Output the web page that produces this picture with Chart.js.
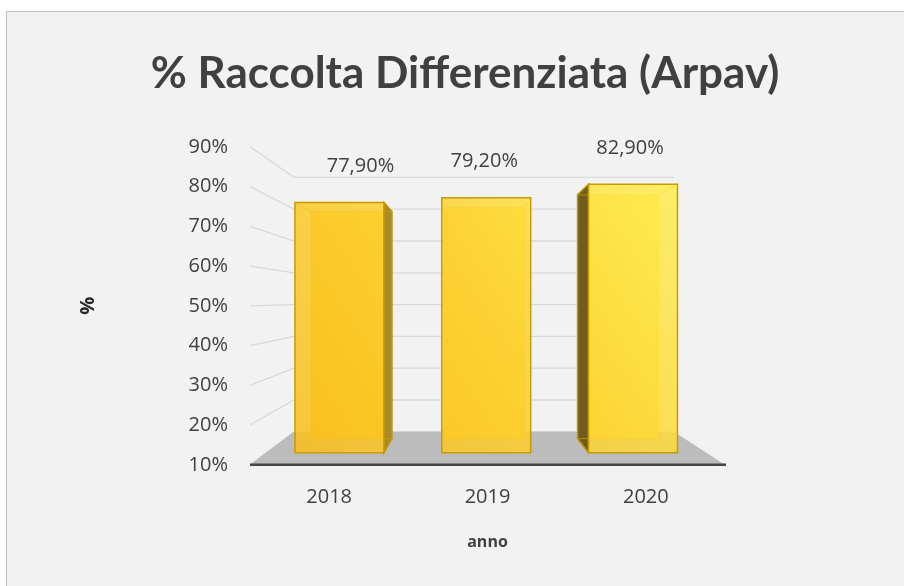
<!DOCTYPE html>
<html>
<head>
<meta charset="utf-8">
<script src="https://cdn.jsdelivr.net/npm/chart.js@4/dist/chart.umd.min.js"></script>
<style>
  html, body { margin: 0; padding: 0; background: #fff; overflow: hidden; }
  #panel {
    position: absolute; left: 6px; top: 11px; width: 920px; height: 600px;
    background: #f2f2f2; border: 1px solid #bfbfbf;
  }
  #chart { position: absolute; left: 0; top: 0; }
</style>
</head>
<body>
<div id="panel"></div>
<canvas id="chart" width="904" height="586"></canvas>
<script>
/* ── data ── */
const years   = ['2018', '2019', '2020'];
const percent = [77.9, 79.2, 82.9];
const yTicks  = [10, 20, 30, 40, 50, 60, 70, 80, 90];

/* ── 3D look: vanishing point (fraction of chart area) and depths ── */
const VP_FX = 0.463, VP_FY = 0.481;
const K_WALL = 0.80;          // back wall
const K_FRONT = 0.927;        // bar front face
const K_BACK = 0.841;         // bar back face
const LABEL_DX = [21, -2, -3];

const fmt = v => v.toFixed(2).replace('.', ',') + '%';

function proj(area, x, y, k) {
  const vx = area.left + VP_FX * (area.right - area.left);
  const vy = area.top + VP_FY * (area.bottom - area.top);
  return [vx + k * (x - vx), vy + k * (y - vy)];
}

function poly(ctx, pts) {
  ctx.beginPath();
  ctx.moveTo(pts[0][0], pts[0][1]);
  for (let i = 1; i < pts.length; i++) ctx.lineTo(pts[i][0], pts[i][1]);
  ctx.closePath();
}

/* ── walls, floor and gridlines behind the bars ── */
const wallsPlugin = {
  id: 'walls',
  beforeDatasetsDraw(chart) {
    const { ctx, chartArea: a, scales: { y } } = chart;
    ctx.save();
    ctx.strokeStyle = '#d9d9d9';
    ctx.lineWidth = 1.3;
    yTicks.forEach(t => {
      const py = y.getPixelForValue(t);
      const b1 = proj(a, a.left, py, K_WALL);
      const b2 = proj(a, a.right, py, K_WALL);
      ctx.beginPath();
      ctx.moveTo(a.left, py);
      ctx.lineTo(b1[0], b1[1]);
      ctx.lineTo(b2[0], b2[1]);
      ctx.stroke();
    });
    // floor
    const fy = y.getPixelForValue(yTicks[0]);
    poly(ctx, [[a.left, fy], [a.right, fy], proj(a, a.right, fy, K_WALL), proj(a, a.left, fy, K_WALL)]);
    ctx.fillStyle = '#bcbcbc';
    ctx.fill();
    ctx.beginPath();
    ctx.moveTo(a.left, fy);
    ctx.lineTo(a.right + 1, fy);
    ctx.strokeStyle = '#454545';
    ctx.lineWidth = 2.5;
    ctx.stroke();
    ctx.restore();
  }
};

/* ── the 3D bars and value labels ── */
const barsPlugin = {
  id: 'bars3d',
  afterDatasetsDraw(chart) {
    const { ctx, chartArea: a } = chart;
    const meta = chart.getDatasetMeta(0);
    const grad = ctx.createLinearGradient(a.left, a.bottom, a.right, a.top);
    grad.addColorStop(0, '#f9bb18');
    grad.addColorStop(0.5, '#fcd232');
    grad.addColorStop(1, '#fff45a');
    const vx = a.left + VP_FX * (a.right - a.left);

    ctx.save();
    meta.data.forEach((bar, i) => {
      const { x, y, base, width } = bar.getProps(['x', 'y', 'base', 'width'], true);
      const x0 = x - width / 2, x1 = x + width / 2;
      const f = [proj(a, x0, y, K_FRONT), proj(a, x1, y, K_FRONT), proj(a, x1, base, K_FRONT), proj(a, x0, base, K_FRONT)];
      const b = [proj(a, x0, y, K_BACK), proj(a, x1, y, K_BACK), proj(a, x1, base, K_BACK), proj(a, x0, base, K_BACK)];

      // back face (seen through)
      poly(ctx, b);
      ctx.fillStyle = grad;
      ctx.fill();

      // side face
      ctx.lineWidth = 1.4;
      ctx.strokeStyle = '#b08a00';
      if (x < vx && b[1][0] > f[1][0]) {
        poly(ctx, [f[1], b[1], b[2], f[2]]);
        ctx.fillStyle = '#a68a2f';
        ctx.fill();
        ctx.stroke();
      } else if (x > vx && b[0][0] < f[0][0]) {
        poly(ctx, [f[0], b[0], b[3], f[3]]);
        ctx.fillStyle = '#6f5c1f';
        ctx.fill();
        ctx.stroke();
      }

      // hidden edges shining through
      ctx.strokeStyle = 'rgba(214,160,0,0.55)';
      ctx.lineWidth = 1.2;
      poly(ctx, b);
      ctx.stroke();
      for (let c = 0; c < 4; c++) {
        ctx.beginPath();
        ctx.moveTo(f[c][0], f[c][1]);
        ctx.lineTo(b[c][0], b[c][1]);
        ctx.stroke();
      }

      // front face
      poly(ctx, f);
      ctx.globalAlpha = 0.86;
      ctx.fillStyle = grad;
      ctx.fill();
      ctx.globalAlpha = 1;
      ctx.strokeStyle = '#c89c00';
      ctx.lineWidth = 1.5;
      ctx.stroke();

      // value label
      ctx.fillStyle = '#404040';
      ctx.font = '20px "Open Sans"';
      ctx.textAlign = 'center';
      ctx.textBaseline = 'middle';
      ctx.fillText(fmt(percent[i]), f[0][0] + (f[1][0] - f[0][0]) / 2 + LABEL_DX[i], f[0][1] - 36);
    });
    ctx.restore();
  }
};

new Chart(document.getElementById('chart'), {
  type: 'bar',
  data: {
    labels: years,
    datasets: [{
      data: percent,
      base: yTicks[0],
      backgroundColor: 'rgba(0,0,0,0)',
      borderWidth: 0,
      barPercentage: 0.606,
      categoryPercentage: 1,
    }],
  },
  options: {
    responsive: false,
    animation: false,
    layout: { padding: { left: 72, right: 46, top: 0, bottom: 30 } },
    plugins: {
      legend: { display: false },
      tooltip: { enabled: false },
      title: {
        display: true,
        text: '% Raccolta Differenziata (Arpav)',
        color: '#404040',
        font: { family: 'Lato', size: 44, weight: 'bold', lineHeight: 1.2 },
        padding: { top: 47, bottom: 47 },
      },
    },
    scales: {
      x: {
        grid: { display: false, drawTicks: false },
        border: { display: false },
        ticks: { color: '#404040', padding: 20, font: { family: 'Open Sans', size: 20, lineHeight: 1.2 } },
        title: {
          display: true, text: 'anno', color: '#404040',
          font: { family: 'Open Sans', size: 16, weight: 'bold', lineHeight: 1.2 },
          padding: { top: 4, bottom: 4 },
        },
      },
      y: {
        min: yTicks[0],
        max: yTicks[yTicks.length - 1],
        beginAtZero: false,
        afterBuildTicks: s => { s.ticks = yTicks.map(v => ({ value: v })); },
        afterFit: s => { s.width = 178; },
        grid: { display: false, drawTicks: false },
        border: { display: false },
        ticks: { color: '#404040', padding: 22, callback: v => v + '%', font: { family: 'Open Sans', size: 20 } },
        title: {
          display: true, text: '%', color: '#262626',
          font: { family: 'Open Sans', size: 20, weight: 'bold', lineHeight: 1.2 },
          padding: 4,
        },
      },
      // empty space on the right of the plot, so the title stays centred on the panel
      spacer: {
        type: 'linear',
        position: 'right',
        afterFit: s => { s.width = 133; },
        grid: { display: false, drawTicks: false },
        border: { display: false },
        ticks: { display: false },
      },
    },
  },
  plugins: [wallsPlugin, barsPlugin],
});
</script>
</body>
</html>
